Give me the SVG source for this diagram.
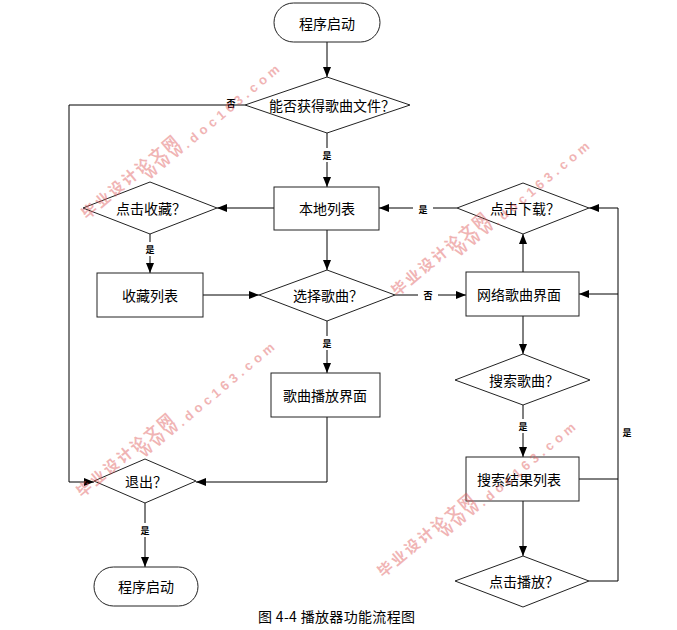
<svg xmlns="http://www.w3.org/2000/svg" width="677" height="630" viewBox="0 0 677 630">
<defs>
<marker id="ah" markerWidth="10" markerHeight="8" refX="10" refY="4" orient="auto" markerUnits="userSpaceOnUse">
<path d="M0,0 L10,4 L0,8 z" fill="#000"/>
</marker>
<style>
.shape{fill:#fff;stroke:#222;stroke-width:1}
.t{font-family:"Noto Sans CJK SC","Noto Sans",sans-serif;font-size:14px;fill:#000;text-anchor:middle;dominant-baseline:central}
.c{fill:none;stroke:#000;stroke-width:1}
.a{marker-end:url(#ah)}
.lb{font-family:"Noto Sans CJK SC",sans-serif;font-size:9px;font-weight:bold;fill:#000;text-anchor:middle;dominant-baseline:central}
.lbg{fill:#fff}
.cap{font-family:"Noto Sans CJK SC",sans-serif;font-size:14px;fill:#000}
.wmc{font-family:"Noto Sans CJK SC",sans-serif;font-size:15px;font-weight:bold;fill:#e05a5a;opacity:.45}
.wme{font-family:"Liberation Sans",sans-serif;font-size:13px;font-weight:bold;fill:#e05a5a;opacity:.45}
</style>
</defs>
<rect width="677" height="630" fill="#fff"/>

<g id="connectors">
<path class="c a" d="M327,42 L327,77"/>
<path class="c a" d="M245,105 L69,105 L69,482 L94,482"/>
<path class="c a" d="M327,133 L327,187"/>
<path class="c a" d="M274,208 L217,208"/>
<path class="c a" d="M150,234 L150,273"/>
<path class="c a" d="M203,295 L259,295"/>
<path class="c a" d="M327,230 L327,270"/>
<path class="c a" d="M395,295 L466,295"/>
<path class="c a" d="M327,321 L327,373"/>
<path class="c a" d="M327,417 L327,482 L196,482"/>
<path class="c a" d="M145,503 L145,567"/>
<path class="c a" d="M523,272 L523,234"/>
<path class="c a" d="M457,208 L379,208"/>
<path class="c a" d="M589,581 L618,581 L618,208 L589,208"/>
<path class="c a" d="M618,294 L579,294"/>
<path class="c" d="M579,479 L618,479"/>
<path class="c a" d="M523,316 L523,354"/>
<path class="c a" d="M523,405 L523,457"/>
<path class="c a" d="M523,501 L523,556"/>
<rect class="lbg" x="321" y="148" width="12" height="14"/>
<rect class="lbg" x="144" y="242" width="12" height="14"/>
<rect class="lbg" x="321" y="336" width="12" height="14"/>
<rect class="lbg" x="418" y="289" width="20" height="12"/>
<rect class="lbg" x="413" y="203" width="20" height="12"/>
<rect class="lbg" x="517" y="419" width="12" height="14"/>
<rect class="lbg" x="139" y="523" width="12" height="14"/>
<text class="lb" x="231" y="103">否</text>
<text class="lb" x="327" y="155">是</text>
<text class="lb" x="150" y="249">是</text>
<text class="lb" x="327" y="343">是</text>
<text class="lb" x="428" y="295">否</text>
<text class="lb" x="423" y="209">是</text>
<text class="lb" x="523" y="426">是</text>
<text class="lb" x="627" y="432">是</text>
<text class="lb" x="145" y="530">是</text>
</g>

<g id="start">
<rect class="shape" x="274" y="3" width="106" height="39" rx="19.5"/>
<text class="t" x="327" y="23">程序启动</text>
</g>
<g id="getfile">
<polygon class="shape" points="327,77 410,105 327,133 245,105"/>
<text class="t" x="332" y="105">能否获得歌曲文件？</text>
</g>
<g id="local">
<rect class="shape" x="274" y="187" width="105" height="43"/>
<text class="t" x="327" y="208">本地列表</text>
</g>
<g id="clickfav">
<polygon class="shape" points="150,182 217,208 150,234 83,208"/>
<text class="t" x="151" y="208">点击收藏？</text>
</g>
<g id="favlist">
<rect class="shape" x="97" y="273" width="106" height="44"/>
<text class="t" x="150" y="295">收藏列表</text>
</g>
<g id="choose">
<polygon class="shape" points="327,270 395,295 327,321 259,295"/>
<text class="t" x="328" y="295">选择歌曲？</text>
</g>
<g id="play">
<rect class="shape" x="271" y="373" width="109" height="44"/>
<text class="t" x="325" y="395">歌曲播放界面</text>
</g>
<g id="exit">
<polygon class="shape" points="145,459 196,481 145,503 94,481"/>
<text class="t" x="146" y="481">退出？</text>
</g>
<g id="end">
<rect class="shape" x="94" y="567" width="104" height="39" rx="19.5"/>
<text class="t" x="146" y="586">程序启动</text>
</g>
<g id="download">
<polygon class="shape" points="523,183 589,208 523,234 457,208"/>
<text class="t" x="525" y="208">点击下载？</text>
</g>
<g id="online">
<rect class="shape" x="466" y="272" width="113" height="44"/>
<text class="t" x="519" y="294">网络歌曲界面</text>
</g>
<g id="search">
<polygon class="shape" points="523,354 590,380 523,405 455,380"/>
<text class="t" x="524" y="380">搜索歌曲？</text>
</g>
<g id="results">
<rect class="shape" x="466" y="457" width="113" height="44"/>
<text class="t" x="519" y="479">搜索结果列表</text>
</g>
<g id="clickplay">
<polygon class="shape" points="523,556 589,581 523,607 455,581"/>
<text class="t" x="524" y="581">点击播放？</text>
</g>

<text class="cap" x="258" y="622" textLength="157" lengthAdjust="spacing">图 4-4 播放器功能流程图</text>

<g id="watermarks">
<g transform="translate(87,220) rotate(-40)"><text class="wmc" x="0" y="0" textLength="120" lengthAdjust="spacing">毕业设计论文网</text><text class="wme" x="74" y="10" textLength="170" lengthAdjust="spacing">WWW.doc163.com</text></g>
<g transform="translate(397,297) rotate(-40)"><text class="wmc" x="0" y="0" textLength="120" lengthAdjust="spacing">毕业设计论文网</text><text class="wme" x="74" y="10" textLength="170" lengthAdjust="spacing">WWW.doc163.com</text></g>
<g transform="translate(82,498) rotate(-40)"><text class="wmc" x="0" y="0" textLength="120" lengthAdjust="spacing">毕业设计论文网</text><text class="wme" x="74" y="10" textLength="170" lengthAdjust="spacing">WWW.doc163.com</text></g>
<g transform="translate(383,578) rotate(-40)"><text class="wmc" x="0" y="0" textLength="120" lengthAdjust="spacing">毕业设计论文网</text><text class="wme" x="74" y="10" textLength="170" lengthAdjust="spacing">WWW.doc163.com</text></g>
</g>
</svg>
